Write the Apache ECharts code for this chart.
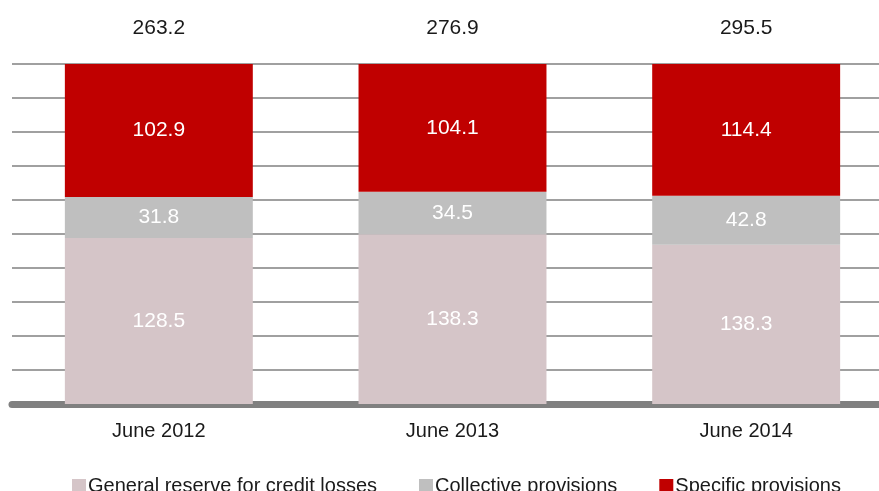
<!DOCTYPE html>
<html><head><meta charset="utf-8">
<script src="https://cdn.jsdelivr.net/npm/echarts@6/dist/echarts.min.js"></script>
<style>html,body{margin:0;padding:0;background:#fff}#c{width:879px;height:491px}</style>
</head><body><div id="c"></div>
<script>
const categories = ['June 2012', 'June 2013', 'June 2014'];
const generalReserve = [128.5, 138.3, 138.3];
const collective = [31.8, 34.5, 42.8];
const specific = [102.9, 104.1, 114.4];
const totals = [263.2, 276.9, 295.5];
const seriesNames = ['General reserve for credit losses', 'Collective provisions', 'Specific provisions'];

const raw = [generalReserve, collective, specific];
const sums = categories.map((_, i) => raw.reduce((s, a) => s + a[i], 0));
const pct = raw.map(a => a.map((v, i) => v / sums[i] * 100));
const colors = ['#d5c5c8', '#bfbfbf', '#c00000'];
const font = '"Liberation Sans", Arial, sans-serif';

const chart = echarts.init(document.getElementById('c'));
const series = raw.map((arr, k) => ({
  name: seriesNames[k], type: 'bar', stack: 'a', barWidth: '64%',
  data: pct[k].map((p, i) => ({ value: p, raw: arr[i] })),
  itemStyle: { color: colors[k] },
  label: { show: true, position: 'inside', color: '#fff', fontSize: 21, fontFamily: font,
    formatter: p => p.data.raw.toFixed(1) }
}));

chart.setOption({
  animation: false,
  grid: { left: 12, width: 881, top: 64, bottom: 87, containLabel: false, outerBoundsMode: 'none' },
  legend: {
    data: seriesNames, top: 471, left: 67, itemWidth: 14, itemHeight: 14, itemGap: 42,
    icon: 'rect',
    textStyle: { fontSize: 20, color: '#1a1a1a', fontFamily: font, padding: [0, 0, 0, -3] }
  },
  xAxis: [{
    type: 'category', data: categories,
    axisLine: { show: true, lineStyle: { color: '#808080', width: 7 } },
    axisTick: { show: false },
    axisLabel: { fontSize: 20, color: '#1a1a1a', margin: 17, fontFamily: font }
  }, {
    type: 'category', position: 'top', data: totals.map(t => t.toFixed(1)),
    axisLine: { show: false }, axisTick: { show: false },
    axisLabel: { fontSize: 21, color: '#1a1a1a', margin: 25, fontFamily: font }
  }],
  yAxis: {
    type: 'value', min: 0, max: 100, interval: 10,
    axisLabel: { show: false }, axisLine: { show: false }, axisTick: { show: false },
    splitLine: { lineStyle: { color: '#a0a0a0', width: 2 } }
  },
  series: series
});
</script></body></html>
